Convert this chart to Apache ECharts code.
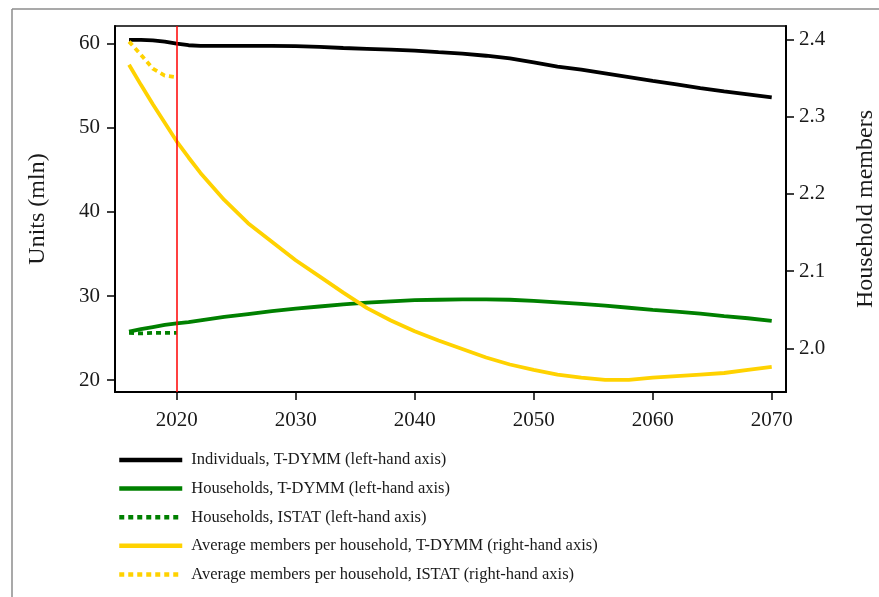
<!DOCTYPE html>
<html><head><meta charset="utf-8">
<script src="https://cdn.jsdelivr.net/npm/echarts@6/dist/echarts.min.js"></script>
<style>html,body{margin:0;padding:0;background:#fff;overflow:hidden}#c{width:879px;height:597px}</style>
</head><body><div id="c"></div>
<script>
const years = [2016,2017,2018,2019,2020,2021,2022,2024,2026,2028,2030,2032,2034,2036,2038,2040,2042,2044,2046,2048,2050,2052,2054,2056,2058,2060,2062,2064,2066,2068,2070];
const individualsTDYMM = [60.5,60.48,60.42,60.28,60.05,59.85,59.78,59.78,59.77,59.77,59.75,59.65,59.52,59.42,59.32,59.2,59.02,58.85,58.6,58.28,57.8,57.3,56.95,56.5,56.05,55.6,55.2,54.75,54.35,54.0,53.65];
const householdsTDYMM = [25.75,26.05,26.3,26.55,26.75,26.9,27.1,27.5,27.85,28.2,28.5,28.75,29.0,29.2,29.35,29.5,29.55,29.6,29.6,29.55,29.42,29.25,29.05,28.85,28.6,28.35,28.15,27.9,27.6,27.35,27.05];
const membersTDYMM = [2.367,2.341,2.316,2.292,2.268,2.247,2.227,2.192,2.162,2.138,2.114,2.093,2.072,2.052,2.036,2.022,2.010,1.999,1.988,1.979,1.972,1.966,1.962,1.959,1.959,1.962,1.964,1.966,1.968,1.972,1.976];
const istatYears = [2016,2017,2018,2019,2020];
const householdsISTAT = [25.6,25.55,25.6,25.6,25.6];
const membersISTAT = [2.397,2.380,2.362,2.353,2.351];
const xTicks = [2020,2030,2040,2050,2060,2070];
const leftTicks = [20,30,40,50,60];
const rightTicks = [2.0,2.1,2.2,2.3,2.4];
const names = [
  'Individuals, T-DYMM (left-hand axis)',
  'Households, T-DYMM (left-hand axis)',
  'Households, ISTAT (left-hand axis)',
  'Average members per household, T-DYMM (right-hand axis)',
  'Average members per household, ISTAT (right-hand axis)'
];
const zip = (xs, ys) => xs.map((x, i) => [x, ys[i]]);
const FONT = 'Liberation Serif';
const GREEN = '#008000', GOLD = '#FFD200';
const chart = echarts.init(document.getElementById('c'));
const axisText = {fontFamily: FONT, fontSize: 21, color: '#1a1a1a'};
const titleText = {fontFamily: FONT, fontSize: 24, color: '#1a1a1a'};
chart.setOption({
  animation: false,
  backgroundColor: '#fff',
  grid: {left: 115, top: 26, right: 93, bottom: 205, show: true, borderColor: '#000', borderWidth: 1.5, containLabel: false, outerBoundsMode: 'none'},
  xAxis: {
    type: 'value', min: 2014.82, max: 2071.2,
    axisLine: {show: true, lineStyle: {color: '#000', width: 2}},
    axisTick: {show: true, length: 8, lineStyle: {color: '#000', width: 1.5}, customValues: xTicks},
    axisLabel: Object.assign({margin: 18, customValues: xTicks, formatter: v => String(v)}, axisText),
    splitLine: {show: false}
  },
  yAxis: [{
    type: 'value', min: 18.57, max: 62.14, position: 'left',
    name: 'Units (mln)', nameLocation: 'middle', nameRotate: 90, nameGap: 65,
    nameTextStyle: titleText,
    axisLine: {show: true, lineStyle: {color: '#000', width: 2}},
    axisTick: {show: true, length: 8, lineStyle: {color: '#000', width: 1.5}, customValues: leftTicks},
    axisLabel: Object.assign({margin: 15, customValues: leftTicks}, axisText),
    splitLine: {show: false}
  }, {
    type: 'value', min: 1.9434, max: 2.4172, position: 'right',
    name: 'Household members', nameLocation: 'middle', nameRotate: 90, nameGap: 68,
    nameTextStyle: titleText,
    axisLine: {show: true, lineStyle: {color: '#000', width: 2}},
    axisTick: {show: true, length: 8, lineStyle: {color: '#000', width: 1.5}, customValues: rightTicks},
    axisLabel: Object.assign({margin: 13, customValues: rightTicks, formatter: v => v.toFixed(1)}, axisText),
    splitLine: {show: false}
  }],
  legend: {
    orient: 'vertical', left: 117, top: 450, padding: 0,
    itemWidth: 63, itemHeight: 14, itemGap: 8.6,
    itemStyle: {opacity: 0},
    lineStyle: {width: 4.5},
    textStyle: {fontFamily: FONT, fontSize: 16.5, color: '#1a1a1a', lineHeight: 20, padding: [0, 0, 0, 4]},
    data: names
  },
  graphic: [
    {type: 'line', shape: {x1: 12, y1: 9, x2: 879, y2: 9}, style: {stroke: '#8c8c8c', lineWidth: 1.5}},
    {type: 'line', shape: {x1: 12, y1: 9, x2: 12, y2: 597}, style: {stroke: '#8c8c8c', lineWidth: 1.5}}
  ],
  series: [
    {name: names[0], type: 'line', yAxisIndex: 0, symbol: 'none', smooth: false,
     lineStyle: {color: '#000', width: 3.8}, itemStyle: {color: '#000'},
     data: zip(years, individualsTDYMM),
     markLine: {silent: true, symbol: 'none', label: {show: false}, lineStyle: {color: '#ff0000', width: 1.5, type: 'solid'}, data: [{xAxis: 2020}]}},
    {name: names[1], type: 'line', yAxisIndex: 0, symbol: 'none',
     lineStyle: {color: GREEN, width: 3.8}, itemStyle: {color: GREEN},
     data: zip(years, householdsTDYMM)},
    {name: names[2], type: 'line', yAxisIndex: 0, symbol: 'none',
     lineStyle: {color: GREEN, width: 3.8, type: [5, 4]}, itemStyle: {color: GREEN},
     data: zip(istatYears, householdsISTAT)},
    {name: names[3], type: 'line', yAxisIndex: 1, symbol: 'none',
     lineStyle: {color: GOLD, width: 3.8}, itemStyle: {color: GOLD},
     data: zip(years, membersTDYMM)},
    {name: names[4], type: 'line', yAxisIndex: 1, symbol: 'none',
     lineStyle: {color: GOLD, width: 3.8, type: [5, 4]}, itemStyle: {color: GOLD},
     data: zip(istatYears, membersISTAT)}
  ]
});
</script></body></html>
